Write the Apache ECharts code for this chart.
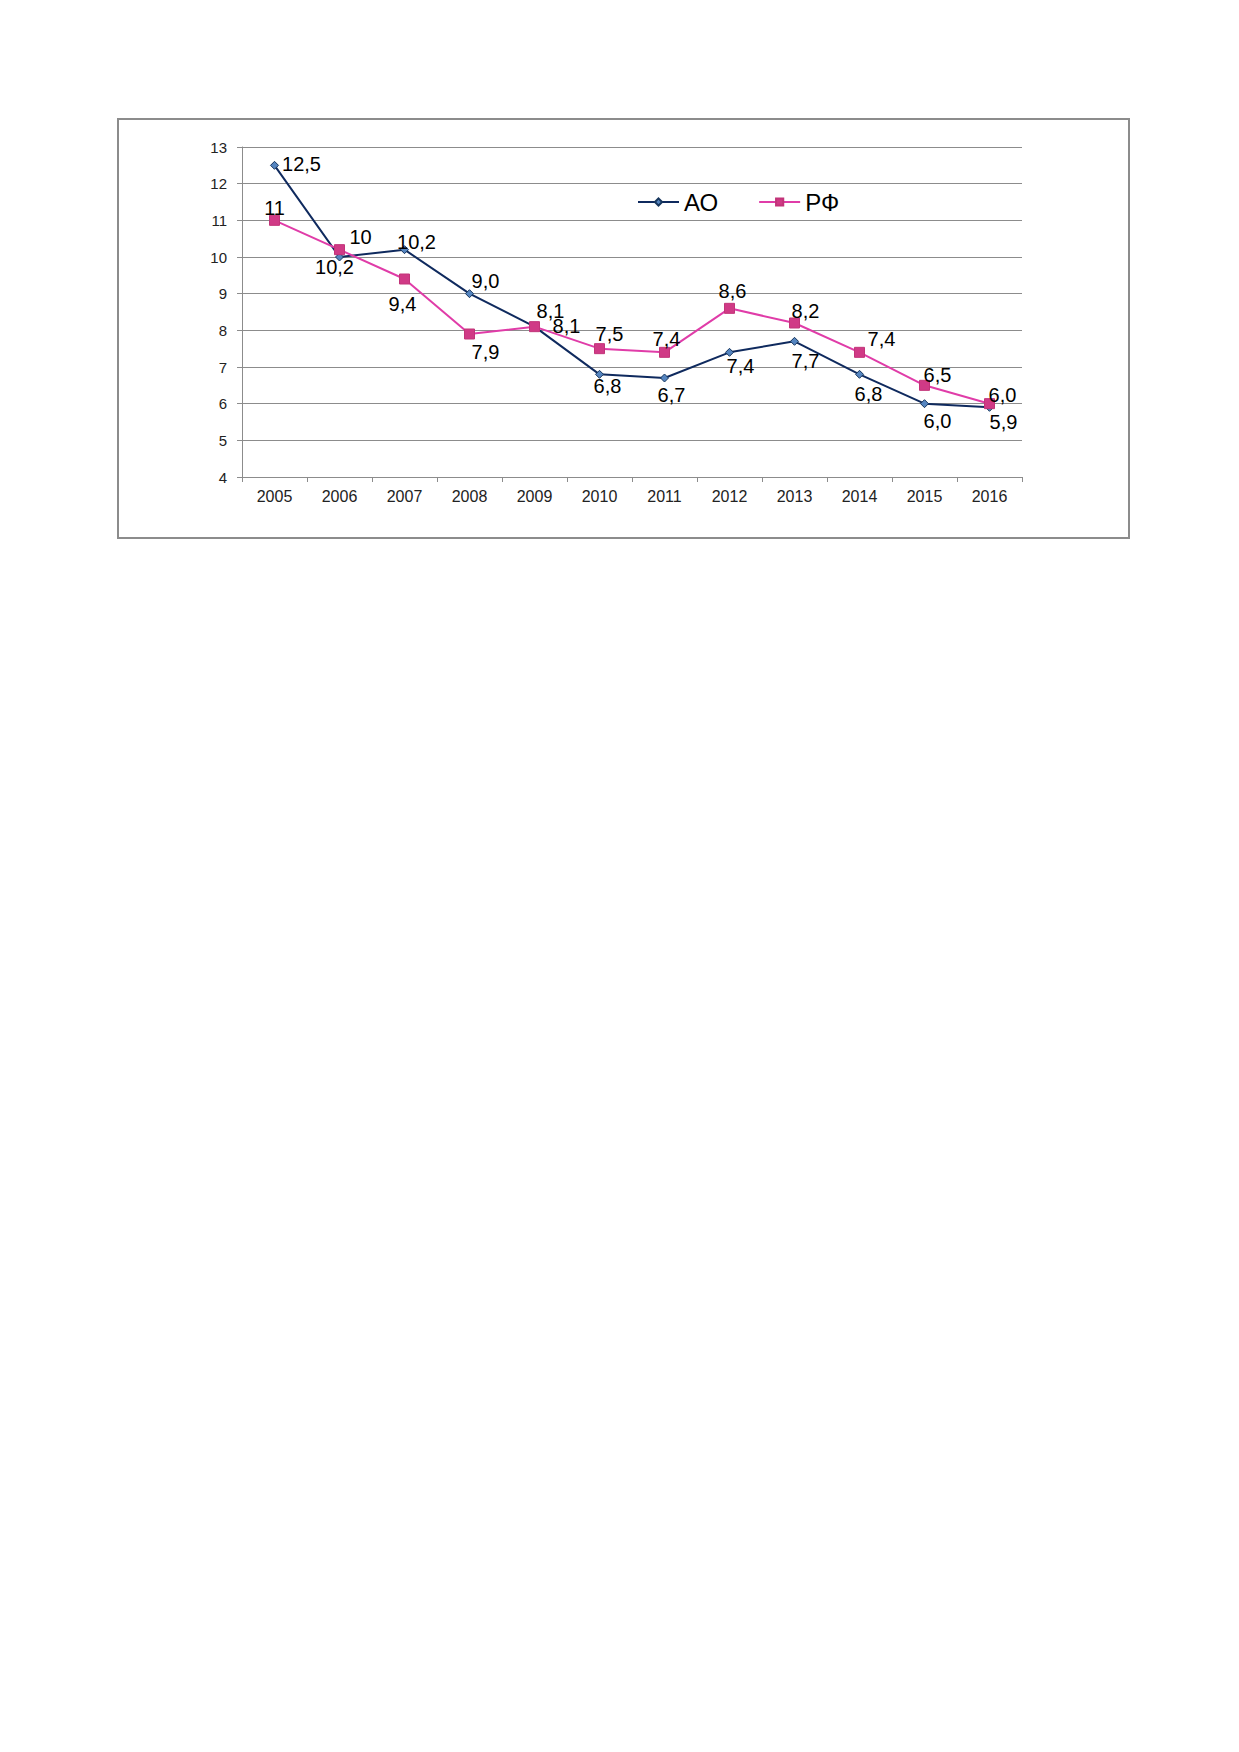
<!DOCTYPE html>
<html>
<head>
<meta charset="utf-8">
<script src="https://cdn.jsdelivr.net/npm/echarts@6/dist/echarts.min.js"></script>
<style>
  html, body { margin: 0; padding: 0; background: #fff; }
  #chart { width: 1239px; height: 1752px; }
</style>
</head>
<body>
<div id="chart"></div>
<script>
// Daten
var years = ['2005', '2006', '2007', '2008', '2009', '2010', '2011', '2012', '2013', '2014', '2015', '2016'];
var aoValues = [12.5, 10.0, 10.2, 9.0, 8.1, 6.8, 6.7, 7.4, 7.7, 6.8, 6.0, 5.9];
var rfValues = [11.0, 10.2, 9.4, 7.9, 8.1, 7.5, 7.4, 8.6, 8.2, 7.4, 6.5, 6.0];
// Beschriftungen wie im Original (2006 ist dort vertauscht)
var aoLabels = ['12,5', '10,2', '10,2', '9,0', '8,1', '6,8', '6,7', '7,4', '7,7', '6,8', '6,0', '5,9'];
var rfLabels = ['11', '10', '9,4', '7,9', '8,1', '7,5', '7,4', '8,6', '8,2', '7,4', '6,5', '6,0'];
var yTicks = { min: 4, max: 13, step: 1 };

// Lage der Beschriftungen relativ zum Punkt (Pixel)
var aoLabelOffsets = [[27, -1], [-5, 10], [12, -8], [16, -13], [16, -16], [8, 12], [7, 17], [11, 14], [11, 20], [9, 20], [13, 17], [14, 15]];
var rfLabelOffsets = [[0, -12], [21, -13], [-2, 25], [16, 18], [32, -1], [10, -15], [2, -13], [3, -17], [11, -12], [22, -13], [13, -10], [13, -9]];

function buildData(values, labels, offsets) {
	return values.map(function (v, i) {
		return {
			value: v,
			label: { offset: offsets[i], formatter: labels[i] }
		};
	});
}

var chart = echarts.init(document.getElementById('chart'), null, { renderer: 'svg' });

var labelStyle = {
	show: true,
	position: 'inside',
	color: '#000',
	fontFamily: 'Liberation Sans, Arial, sans-serif',
	fontSize: 20
};

chart.setOption({
	backgroundColor: '#fff',
	animation: false,
	textStyle: { fontFamily: 'Liberation Sans, Arial, sans-serif' },
	graphic: [{
		type: 'rect',
		shape: { x: 118, y: 119, width: 1011, height: 419 },
		style: { fill: 'none', stroke: '#8c8c8c', lineWidth: 2 },
		z: -1
	}],
	grid: { left: 242, top: 147, width: 780, height: 330 },
	legend: {
		left: 632,
		top: 185,
		itemWidth: 41,
		itemHeight: 9,
		itemGap: 40,
		textStyle: { fontSize: 24, color: '#000' },
		data: ['АО', 'РФ']
	},
	xAxis: {
		type: 'category',
		data: years,
		boundaryGap: true,
		axisLine: { lineStyle: { color: '#8c8c8c', width: 1 } },
		axisTick: { show: true, length: 5, lineStyle: { color: '#8c8c8c' } },
		axisLabel: { color: '#222', fontSize: 16, margin: 11 }
	},
	yAxis: {
		type: 'value',
		min: yTicks.min,
		max: yTicks.max,
		interval: yTicks.step,
		axisLine: { show: true, lineStyle: { color: '#8c8c8c', width: 1 } },
		axisTick: { show: true, length: 5, lineStyle: { color: '#8c8c8c' } },
		axisLabel: { color: '#222', fontSize: 15, margin: 15 },
		splitLine: { lineStyle: { color: '#8c8c8c', width: 1 } }
	},
	series: [
		{
			name: 'АО',
			type: 'line',
			symbol: 'diamond',
			symbolSize: 8,
			lineStyle: { color: '#0f2a5e', width: 2 },
			itemStyle: { color: '#5585c0', borderColor: '#17365d', borderWidth: 1 },
			label: labelStyle,
			data: buildData(aoValues, aoLabels, aoLabelOffsets),
			z: 3
		},
		{
			name: 'РФ',
			type: 'line',
			symbol: 'rect',
			symbolSize: 10,
			lineStyle: { color: '#e03ca8', width: 2 },
			itemStyle: { color: '#d03a86', borderColor: '#c23479', borderWidth: 1 },
			label: labelStyle,
			data: buildData(rfValues, rfLabels, rfLabelOffsets),
			z: 4
		}
	]
});
</script>
</body>
</html>
